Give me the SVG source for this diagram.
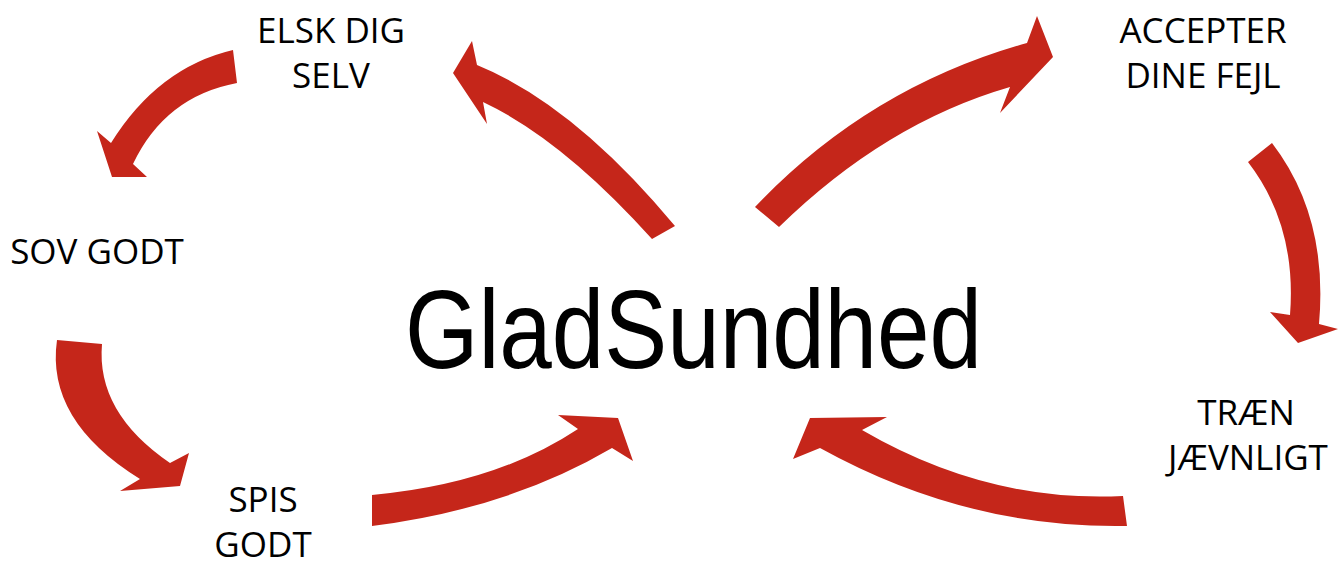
<svg xmlns="http://www.w3.org/2000/svg" width="1342" height="565" viewBox="0 0 1342 565">
<style>
.arrow{fill:#C5261A;stroke:none}
.lbl{font-family:"Open Sans","Liberation Sans",sans-serif;font-size:35px;fill:#000;text-anchor:middle}
.title{font-family:"Liberation Sans",Arial,sans-serif;font-size:112px;fill:#000}
</style>
<rect width="1342" height="565" fill="#fff"/>
<g id="connectors">
<path class="arrow" d="M233,50 Q158,67.5 111,143 L97,131 L112,177 L147,177 L133,164 Q165,96.5 237,83 Z"/>
<path class="arrow" d="M675,226 Q574,104.5 477,65 L472,41 L453,73 L487,124 L483,102 Q562.5,139.5 652,239 Z"/>
<path class="arrow" d="M755,207 Q869,87 1027,43 L1037,16 L1053,57 L1000,113 L1010,87 Q885.5,123 779,227 Z"/>
<path class="arrow" d="M1248,162 Q1297,225.5 1290,315 L1270,312 L1298,343 L1338,329 L1319,324 Q1328.5,216.5 1272,143 Z"/>
<path class="arrow" d="M57,340 Q45.5,420.5 140,479 L120,491 L180,486 L189,453 L170,463 Q96,412.5 102,344 Z"/>
<path class="arrow" d="M372,495 Q495,484 578,429 L558,415 L618,418 L633,461 L612,448 Q508,509 372,526 Z"/>
<path class="arrow" d="M1123,496 Q987.5,503 862,430 L887,417 L810,418 L793,459 L820,448 Q966.5,529 1127,526 Z"/>
</g>
<g id="center">
<text class="title" x="405" y="368" textLength="577" lengthAdjust="spacingAndGlyphs">GladSundhed</text>
</g>
<g id="elsk">
<text class="lbl" x="331" y="43">ELSK DIG</text>
<text class="lbl" x="331" y="88">SELV</text>
</g>
<g id="accepter">
<text class="lbl" x="1203" y="43">ACCEPTER</text>
<text class="lbl" x="1203" y="88">DINE FEJL</text>
</g>
<g id="sov">
<text class="lbl" x="97" y="264">SOV GODT</text>
</g>
<g id="traen">
<text class="lbl" x="1246" y="425">TRÆN</text>
<text class="lbl" x="1248" y="470">JÆVNLIGT</text>
</g>
<g id="spis">
<text class="lbl" x="263" y="512">SPIS</text>
<text class="lbl" x="263" y="557">GODT</text>
</g>
</svg>
